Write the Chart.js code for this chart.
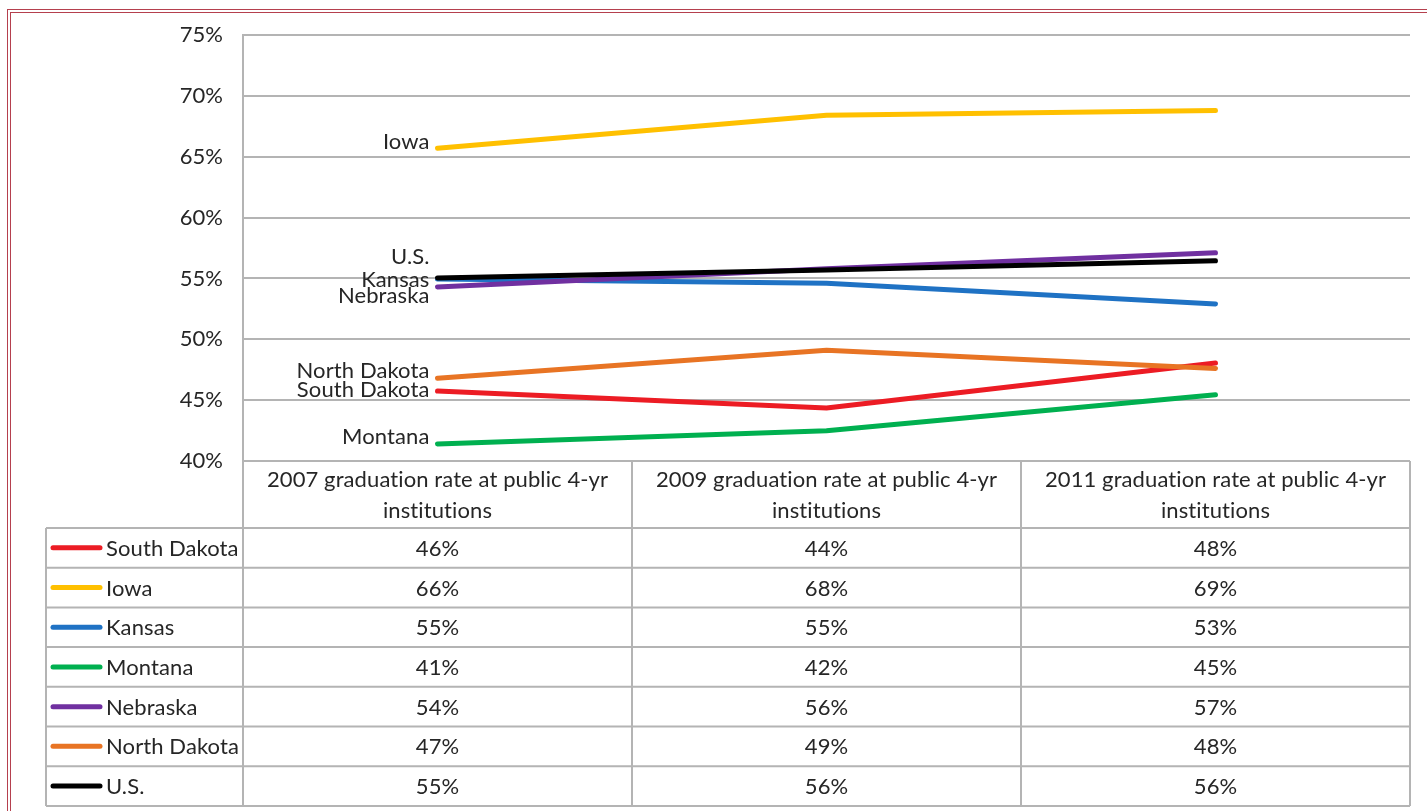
<!DOCTYPE html>
<html>
<head>
<meta charset="utf-8">
<script src="https://cdn.jsdelivr.net/npm/chart.js@4"></script>
<style>
  html, body { margin: 0; padding: 0; background: #fff; overflow: hidden; }
  #wrap { position: relative; width: 1427px; height: 811px; }
  #frame { position: absolute; left: 7px; top: 9px; width: 1500px; height: 900px;
           border: 4px double #b5404e; box-sizing: border-box; pointer-events: none; }
  canvas { position: absolute; left: 0; top: 0; }
</style>
</head>
<body>
<div id="wrap">
  <canvas id="chart" width="1427" height="811"></canvas>
  <div id="frame"></div>
</div>
<script>
// categorias (duas linhas por cabeçalho)
const categories = [
  ['2007 graduation rate at public 4-yr', 'institutions'],
  ['2009 graduation rate at public 4-yr', 'institutions'],
  ['2011 graduation rate at public 4-yr', 'institutions']
];

const states = ['South Dakota', 'Iowa', 'Kansas', 'Montana', 'Nebraska', 'North Dakota', 'U.S.'];

// valores em %
const southDakota = [45.75, 44.35, 48.05];
const iowa = [65.7, 68.4, 68.8];
const kansas = [54.95, 54.6, 52.9];
const montana = [41.4, 42.48, 45.45];
const nebraska = [54.3, 55.8, 57.1];
const northDakota = [46.8, 49.1, 47.6];
const us = [55.03, 55.7, 56.45];

const yTicks = [40, 45, 50, 55, 60, 65, 70, 75];

const seriesValues = [southDakota, iowa, kansas, montana, nebraska, northDakota, us];
const colors = ['#ec1c24', '#ffc000', '#1f72c4', '#00b050', '#7030a0', '#e87424', '#000000'];
// deslocamento vertical dos rótulos à esquerda de cada linha
const labelDy = [-1, -6, 1, -7, 9, -7, -21];

const FONT = 'Lato, "Open Sans", sans-serif';
const TEXT = '#262626';
const GRID = '#b4b4b4';

// Tabela de dados desenhada abaixo do gráfico
const tablePlugin = {
  id: 'dataTable',
  afterDraw(chart) {
    const ctx = chart.ctx;
    const xs = chart.scales.x;
    const area = chart.chartArea;
    const n = categories.length;
    const colW = (area.right - area.left) / n;
    const headTop = area.bottom;
    const headH = 67;
    const rowH = 39.7;
    const tableTop = headTop + headH;
    const tableBottom = tableTop + rowH * states.length;
    const legendLeft = 46;

    ctx.save();
    ctx.strokeStyle = GRID;
    ctx.lineWidth = 2;
    ctx.beginPath();
    // linhas verticais
    ctx.moveTo(area.left, area.top); ctx.lineTo(area.left, tableBottom);
    for (let i = 1; i <= n; i++) {
      const x = area.left + colW * i;
      ctx.moveTo(x, headTop); ctx.lineTo(x, tableBottom);
    }
    ctx.moveTo(legendLeft, tableTop); ctx.lineTo(legendLeft, tableBottom);
    // linhas horizontais
    for (let r = 0; r <= states.length; r++) {
      const y = tableTop + rowH * r;
      ctx.moveTo(legendLeft, y); ctx.lineTo(area.right, y);
    }
    ctx.stroke();

    ctx.fillStyle = TEXT;
    ctx.font = '22px ' + FONT;
    ctx.letterSpacing = '0.1px'; // evita a ligadura "ti"
    ctx.textAlign = 'center';
    ctx.textBaseline = 'middle';
    categories.forEach((lines, i) => {
      const cx = xs.getPixelForValue(i);
      lines.forEach((t, k) => ctx.fillText(t, cx, headTop + 19 + k * 31));
    });

    states.forEach((name, r) => {
      const cy = tableTop + rowH * r + rowH / 2;
      // amostra da legenda
      ctx.strokeStyle = colors[r];
      ctx.lineWidth = 5;
      ctx.lineCap = 'round';
      ctx.beginPath();
      ctx.moveTo(53, cy); ctx.lineTo(100, cy);
      ctx.stroke();
      ctx.fillStyle = TEXT;
      ctx.textAlign = 'left';
      ctx.fillText(name, 106, cy + 1);
      ctx.textAlign = 'center';
      seriesValues[r].forEach((v, i) => {
        ctx.fillText(Math.round(v) + '%', xs.getPixelForValue(i), cy + 1);
      });
    });

    // rótulos das séries à esquerda do primeiro ponto
    ctx.textAlign = 'right';
    states.forEach((name, r) => {
      const pt = chart.getDatasetMeta(r).data[0];
      ctx.fillText(name, pt.x - 8, pt.y + labelDy[r]);
    });
    ctx.restore();
  }
};

new Chart(document.getElementById('chart').getContext('2d'), {
  type: 'line',
  data: {
    labels: categories,
    datasets: states.map((name, i) => ({
      label: name,
      data: seriesValues[i],
      borderColor: colors[i],
      backgroundColor: colors[i],
      borderWidth: 5,
      borderCapStyle: 'round',
      borderJoinStyle: 'round',
      pointRadius: 0,
      tension: 0,
      order: states.length - i
    }))
  },
  options: {
    responsive: false,
    animation: false,
    layout: { padding: { left: 0, top: 35, right: 17, bottom: 350 } },
    scales: {
      x: {
        offset: true,
        grid: { display: false },
        border: { display: false },
        ticks: { display: false },
        afterFit: s => { s.height = 0; }
      },
      y: {
        min: 40,
        max: 75,
        afterBuildTicks: s => { s.ticks = yTicks.map(v => ({ value: v })); },
        afterFit: s => { s.width = 243; },
        grid: { color: GRID, lineWidth: 2, drawTicks: false },
        border: { display: true, color: GRID, width: 2 },
        ticks: {
          padding: 20,
          color: TEXT,
          font: { size: 22, family: FONT },
          callback: v => v + '%'
        }
      }
    },
    plugins: {
      legend: { display: false },
      tooltip: { enabled: false }
    }
  },
  plugins: [tablePlugin]
});
</script>
</body>
</html>
